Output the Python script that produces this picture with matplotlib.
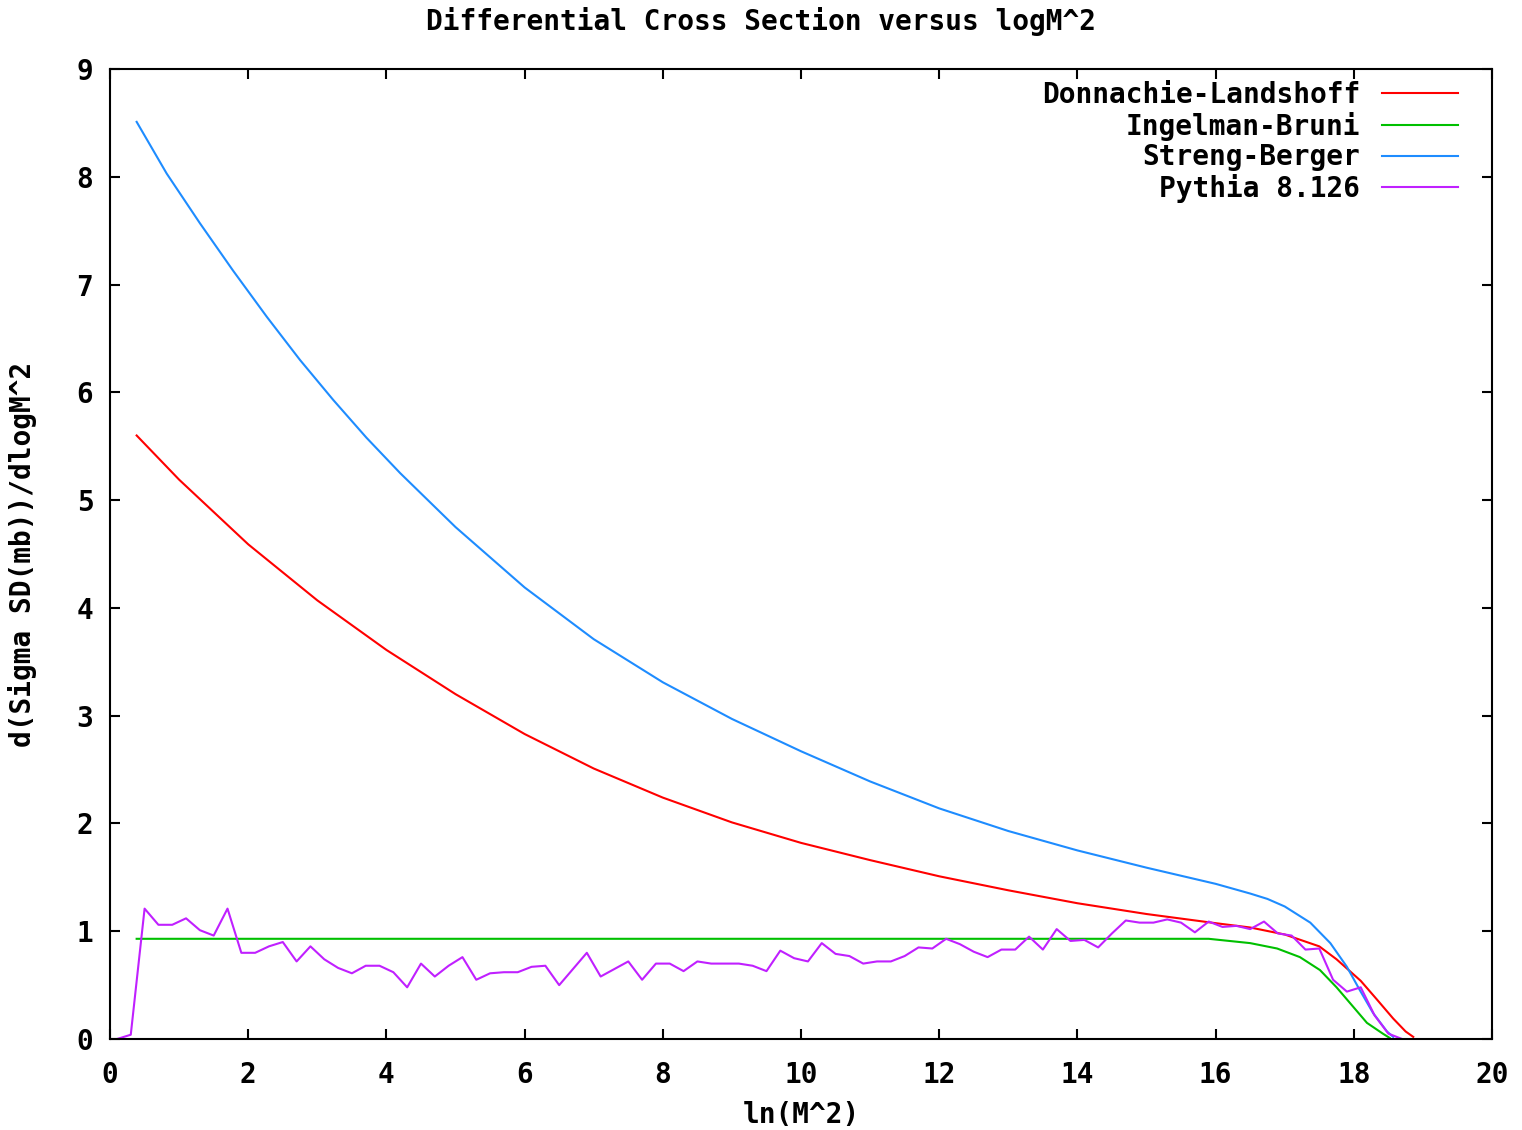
import numpy as np
import matplotlib.pyplot as plt

# Donnachie-Landshoff
dl_x = [0.385, 1, 2, 3, 4, 5, 6, 7, 8, 9, 10, 11, 12, 13, 14, 15, 16, 16.5, 17,
        17.5, 17.75, 18.1, 18.33, 18.57, 18.75, 18.86]
dl_y = [5.60, 5.19, 4.59, 4.07, 3.61, 3.20, 2.83, 2.51, 2.24, 2.01, 1.82, 1.66,
        1.51, 1.38, 1.26, 1.16, 1.075, 1.035, 0.97, 0.86, 0.74, 0.54, 0.37,
        0.19, 0.07, 0.02]

# Ingelman-Bruni
ib_x = [0.385, 15.9, 16.5, 16.89, 17.22, 17.51, 17.75, 17.99, 18.19, 18.42, 18.52]
ib_y = [0.93, 0.93, 0.89, 0.84, 0.76, 0.64, 0.48, 0.30, 0.15, 0.05, 0.01]

# Streng-Berger
sb_x = [0.385, 0.82, 1.3, 1.78, 2.27, 2.75, 3.23, 3.71, 4.2, 5, 6, 7, 8, 9, 10,
        11, 12, 13, 14, 15, 16, 16.5, 16.75, 17, 17.37, 17.66, 17.9, 18.09,
        18.28, 18.48, 18.57]
sb_y = [8.51, 8.03, 7.57, 7.13, 6.70, 6.30, 5.93, 5.58, 5.25, 4.75, 4.19, 3.71,
        3.31, 2.97, 2.67, 2.39, 2.14, 1.93, 1.75, 1.59, 1.44, 1.35, 1.30, 1.23,
        1.08, 0.89, 0.67, 0.45, 0.24, 0.07, 0.02]

# Pythia 8.126
py_x = [0.1, 0.3, 0.5, 0.7, 0.9, 1.1, 1.3, 1.5, 1.7, 1.9, 2.1, 2.3, 2.5, 2.7,
        2.9, 3.1, 3.3, 3.5, 3.7, 3.9, 4.1, 4.3, 4.5, 4.7, 4.9, 5.1, 5.3, 5.5,
        5.7, 5.9, 6.1, 6.3, 6.5, 6.7, 6.9, 7.1, 7.3, 7.5, 7.7, 7.9, 8.1, 8.3,
        8.5, 8.7, 8.9, 9.1, 9.3, 9.5, 9.7, 9.9, 10.1, 10.3, 10.5, 10.7, 10.9,
        11.1, 11.3, 11.5, 11.7, 11.9, 12.1, 12.3, 12.5, 12.7, 12.9, 13.1, 13.3,
        13.5, 13.7, 13.9, 14.1, 14.3, 14.5, 14.7, 14.9, 15.1, 15.3, 15.5, 15.7,
        15.9, 16.1, 16.3, 16.5, 16.7, 16.9, 17.1, 17.3, 17.5, 17.7, 17.9, 18.1,
        18.3, 18.5, 18.7]
py_y = [0.0, 0.04, 1.21, 1.06, 1.06, 1.12, 1.01, 0.96, 1.21, 0.80, 0.80, 0.86,
        0.90, 0.72, 0.86, 0.74, 0.66, 0.61, 0.68, 0.68, 0.62, 0.48, 0.70, 0.58,
        0.68, 0.76, 0.55, 0.61, 0.62, 0.62, 0.67, 0.68, 0.50, 0.65, 0.80, 0.58,
        0.65, 0.72, 0.55, 0.70, 0.70, 0.63, 0.72, 0.70, 0.70, 0.70, 0.68, 0.63,
        0.82, 0.75, 0.72, 0.89, 0.79, 0.77, 0.70, 0.72, 0.72, 0.77, 0.85, 0.84,
        0.93, 0.88, 0.81, 0.76, 0.83, 0.83, 0.95, 0.83, 1.02, 0.91, 0.92, 0.85,
        0.98, 1.10, 1.08, 1.08, 1.11, 1.08, 0.99, 1.09, 1.04, 1.05, 1.02, 1.09,
        0.98, 0.96, 0.83, 0.84, 0.55, 0.44, 0.48, 0.22, 0.05, 0.0]

plt.rcParams['font.family'] = 'DejaVu Sans Mono'
plt.rcParams['font.weight'] = 'bold'
fs = 20

fig = plt.figure(figsize=(15.22, 11.3), dpi=100)
ax = fig.add_axes([0.0723, 0.0805, 0.9080, 0.8584])

ax.plot(dl_x, dl_y, color='#ff0000', lw=1.5, label='Donnachie-Landshoff')
ax.plot(ib_x, ib_y, color='#00c000', lw=1.5, label='Ingelman-Bruni')
ax.plot(sb_x, sb_y, color='#1e8cff', lw=1.5, label='Streng-Berger')
ax.plot(py_x, py_y, color='#c020ff', lw=1.5, label='Pythia 8.126')

ax.set_xlim(0, 20)
ax.set_ylim(0, 9)
ax.set_xticks(np.arange(0, 21, 2))
ax.set_yticks(np.arange(0, 10, 1))
ax.tick_params(direction='in', length=7, width=1.5, top=True, right=True,
               labelsize=fs)
ax.tick_params(axis='x', pad=16)
ax.tick_params(axis='y', pad=12)
for s in ax.spines.values():
    s.set_linewidth(1.5)

fig.suptitle('Differential Cross Section versus logM^2', fontsize=fs,
             fontweight='bold', y=0.981, va='center')
ax.set_xlabel('ln(M^2)', fontsize=fs, fontweight='bold')
ax.xaxis.set_label_coords(0.5, -0.064)
ax.set_ylabel('d(Sigma SD(mb))/dlogM^2', fontsize=fs, fontweight='bold')
ax.yaxis.set_label_coords(-0.053, 0.5)

leg = ax.legend(loc='upper right', bbox_to_anchor=(0.9834, 0.999),
                frameon=False, markerfirst=False, fontsize=fs,
                handlelength=2.73, handletextpad=0.8, labelspacing=0.095,
                borderaxespad=0)

plt.savefig('out.png', dpi=100)
